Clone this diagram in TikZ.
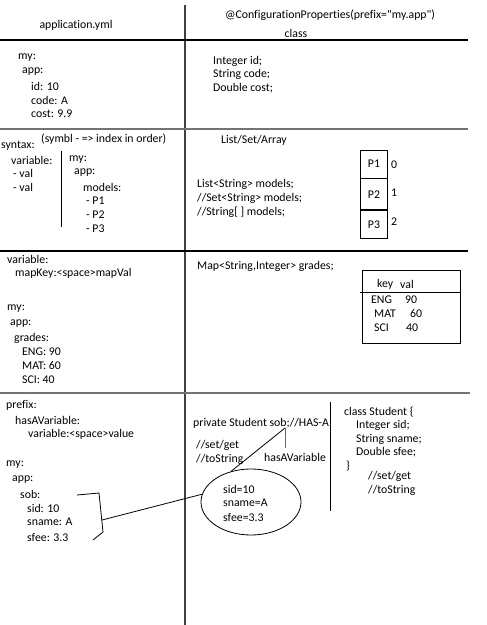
\documentclass[tikz,border=0pt]{standalone}
\usepackage{fontspec}
\setmainfont{Carlito}[Ligatures={CommonOff,TeXOff}]
\usetikzlibrary{shapes.geometric}
\begin{document}
\begin{tikzpicture}[x=1pt,y=-1pt,
  txt/.style={anchor=west,inner sep=0pt,font=\fontsize{11.8}{14}\selectfont},
  ctxt/.style={anchor=center,inner sep=0pt,font=\fontsize{11.8}{14}\selectfont},
  blackrule/.style={line width=1.2pt,black},
  grayrule/.style={line width=1.6pt,black!55},
  thinline/.style={line width=0.8pt,black},
  cell/.style={draw,line width=0.8pt,minimum width=27pt,inner sep=0pt,font=\fontsize{11.8}{14}\selectfont}]
\useasboundingbox (0,0) rectangle (487,625);
% grid lines
\coordinate (v1t) at (185,5); \coordinate (v1b) at (185,625);
\coordinate (h1l) at (0,40);  \coordinate (h1r) at (468,40);
\coordinate (h2l) at (0,129); \coordinate (h2r) at (468,129);
\coordinate (h3l) at (0,251); \coordinate (h3r) at (468,251);
\coordinate (h4l) at (0,393); \coordinate (h4r) at (470,393);
\draw[line width=1.2pt,black!75] (v1t) -- (v1b);
\draw[blackrule] (h1l) -- (h1r);
\draw[grayrule] (h2l) -- (h2r);
\draw[blackrule] (h3l) -- (h3r);
\draw[grayrule] (h4l) -- (h4r);
% header
\node[ctxt] (hy) at (76,25) {application.yml};
\node[ctxt] (hc) at (330,15) {@ConfigurationProperties(prefix="my.app")};
\node[ctxt] (hcl) at (296,33) {class};
% row 1
\node[txt] (a1) at (18,58) {my:};
\node[txt] (a2) at (22,72) {app:};
\node[txt] (a3) at (31,86) {id: 10};
\node[txt] (a4) at (31,100) {code: A};
\node[txt] (a5) at (31,114) {cost: 9.9};
\node[txt] (b1) at (213,61) {Integer id;};
\node[txt] (b2) at (213,74) {String code;};
\node[txt] (b3) at (213,88) {Double cost;};
% row 2
\node[txt] (c1) at (1,146) {syntax:};
\node[txt] (c2) at (41,139) {(symbl - => index in order)};
\node[txt] (c3) at (11,160) {variable:};
\node[txt] (c4) at (13,173) {- val};
\node[txt] (c5) at (13,187) {- val};
\coordinate (sv1) at (61,151); \coordinate (sv2) at (61,227);
\draw[thinline] (sv1) -- (sv2);
\node[txt] (c6) at (69,160) {my:};
\node[txt] (c7) at (74,173) {app:};
\node[txt] (c8) at (83,187) {models:};
\node[txt] (c9) at (86,201) {- P1};
\node[txt] (c10) at (86,215) {- P2};
\node[txt] (c11) at (86,229) {- P3};
\node[txt] (d1) at (221,140) {List/Set/Array};
\node[txt] (d2) at (197,184) {List<String> models;};
\node[txt] (d3) at (197,198) {//Set<String> models;};
\node[txt] (d4) at (197,212) {//String[ ] models;};
\node[cell,minimum height=28pt] (p1) at (374,164) {P1};
\node[cell,minimum height=31pt,anchor=north] (p2) at (p1.south) {P2};
\node[cell,minimum height=28pt,anchor=north] (p3) at (p2.south) {P3};
\node[txt] (i0) at (391,165) {0};
\node[txt] (i1) at (391,193) {1};
\node[txt] (i2) at (391,222) {2};
% row 3
\node[txt] (e1) at (7,259) {variable:};
\node[txt] (e2) at (15,273) {mapKey:<space>mapVal};
\node[txt] (e3) at (7,309) {my:};
\node[txt] (e4) at (10,324) {app:};
\node[txt] (e5) at (14,338) {grades:};
\node[txt] (e6) at (22,352) {ENG: 90};
\node[txt] (e7) at (22,366) {MAT: 60};
\node[txt] (e8) at (22,380) {SCI: 40};
\node[txt] (f1) at (197,266) {Map<String,Integer> grades;};
\node[draw,line width=0.8pt,minimum width=98pt,minimum height=73pt,inner sep=0pt] (kv) at (411,306.5) {};
\coordinate (kvl) at (360,292); \coordinate (kvr) at (kv.east|-kvl);
\draw[thinline] (kvl) -- (kvr);
\node[txt] (k1) at (377,284) {key};
\node[txt] (k2) at (400,284) {val};
\node[txt] (k3) at (371,300) {ENG};
\node[txt] (k4) at (405,300) {90};
\node[txt] (k5) at (374,314) {MAT};
\node[txt] (k6) at (410,314) {60};
\node[txt] (k7) at (374,328) {SCI};
\node[txt] (k8) at (406,328) {40};
% row 4
\node[txt] (g1) at (6,405) {prefix:};
\node[txt] (g2) at (15,420) {hasAVariable:};
\node[txt] (g3) at (28,434) {variable:<space>value};
\node[txt] (g4) at (6,465) {my:};
\node[txt] (g5) at (12,480) {app:};
\node[txt] (g6) at (20,494) {sob:};
\node[txt] (g7) at (27,508) {sid: 10};
\node[txt] (g8) at (27,522) {sname: A};
\node[txt] (g9) at (27,537) {sfee: 3.3};
\node[txt] (m1) at (193,423) {private Student sob;//HAS-A};
\node[txt] (m2) at (196,445) {//set/get};
\node[txt] (m3) at (196,459) {//toString};
\node[txt] (m4) at (264,457) {hasAVariable};
\node[draw,ellipse,line width=0.8pt,minimum width=100pt,minimum height=66pt,inner sep=0pt] (obj) at (251,502) {};
\node[txt] (o1) at (223,489) {sid=10};
\node[txt] (o2) at (223,503) {sname=A};
\node[txt] (o3) at (223,517) {sfee=3.3};
\coordinate (hv1) at (285,428); \coordinate (hv2) at (285,448);
\draw[line width=0.8pt,black!60] (hv1) -- (hv2);
\draw[thinline] (obj.123) -- (hv1);
\coordinate (sep1) at (330,402); \coordinate (sep2) at (330,511);
\draw[thinline] (sep1) -- (sep2);
\node[txt] (s1) at (344,412) {class Student \{};
\node[txt] (s2) at (356,425) {Integer sid;};
\node[txt] (s3) at (356,439) {String sname;};
\node[txt] (s4) at (356,452) {Double sfee;};
\node[txt] (s5) at (346,466) {\}};
\node[txt] (s6) at (368,476) {//set/get};
\node[txt] (s7) at (368,490) {//toString};
% bracket
\coordinate (br1) at (77,495); \coordinate (br2) at (99,493);
\coordinate (br3) at (103,532); \coordinate (br4) at (93,540);
\coordinate (brm) at (102,520);
\draw[thinline] (br1) -- (br2) -- (br3) -- (br4);
\draw[thinline] (brm) -- (obj.171);
\end{tikzpicture}
\end{document}
